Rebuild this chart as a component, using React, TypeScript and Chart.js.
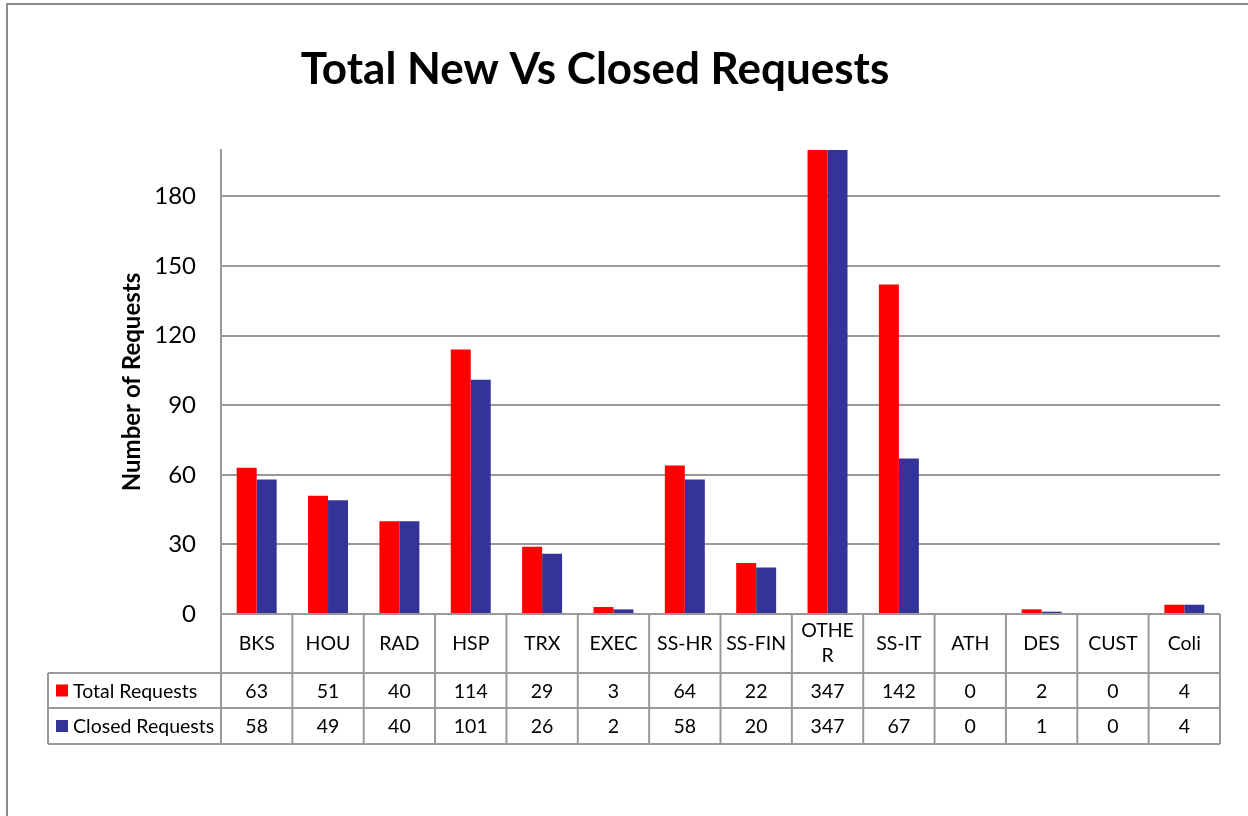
import React, { useEffect, useRef } from 'react';
import { Chart, registerables } from 'chart.js';

Chart.register(...registerables);

const categories: (string | string[])[] = ['BKS', 'HOU', 'RAD', 'HSP', 'TRX', 'EXEC', 'SS-HR', 'SS-FIN', ['OTHE', 'R'], 'SS-IT', 'ATH', 'DES', 'CUST', 'Coli'];
const totalRequests = [63, 51, 40, 114, 29, 3, 64, 22, 347, 142, 0, 2, 0, 4];
const closedRequests = [58, 49, 40, 101, 26, 2, 58, 20, 347, 67, 0, 1, 0, 4];
const seriesNames = ['Total Requests', 'Closed Requests'];
const seriesColors = ['#FF0000', '#333399'];
const yTickStep = 30;
const yMax = 200;
const chartTitle = 'Total New Vs Closed Requests';
const yAxisTitle = 'Number of Requests';

const FONT = 'Lato, "Open Sans", sans-serif';
const LINE = '#999999';

const framePlugin = {
  id: 'frameAndTitle',
  beforeDraw(chart: any) {
    const ctx = chart.ctx;
    ctx.save();
    ctx.fillStyle = '#ffffff';
    ctx.fillRect(0, 0, chart.width, chart.height);
    ctx.strokeStyle = '#8c8c8c';
    ctx.lineWidth = 2;
    ctx.strokeRect(7, 4, chart.width + 20, chart.height + 20);
    ctx.fillStyle = '#000';
    ctx.font = `bold 44px ${FONT}`;
    ctx.textAlign = 'center';
    ctx.textBaseline = 'middle';
    ctx.fillText(chartTitle, 595, 70);
    ctx.restore();
  },
};

const tablePlugin = {
  id: 'dataTable',
  afterDraw(chart: any) {
    const { ctx, chartArea } = chart;
    const xs = chart.scales.x;
    const labels = chart.data.labels as (string | string[])[];
    const n = labels.length;
    const bounds: number[] = [];
    for (let i = 0; i <= n; i++) {
      if (i === 0) bounds.push(chartArea.left);
      else if (i === n) bounds.push(chartArea.right);
      else bounds.push((xs.getPixelForValue(i - 1) + xs.getPixelForValue(i)) / 2);
    }
    const top = chartArea.bottom;
    const hdrB = top + 59;
    const r1B = hdrB + 35;
    const r2B = r1B + 36;
    const legendLeft = 48;

    ctx.save();
    ctx.strokeStyle = LINE;
    ctx.lineWidth = 2;
    const line = (x1: number, y1: number, x2: number, y2: number) => {
      ctx.beginPath();
      ctx.moveTo(x1, y1);
      ctx.lineTo(x2, y2);
      ctx.stroke();
    };
    line(bounds[0], top, bounds[n], top);
    line(legendLeft, hdrB, bounds[n], hdrB);
    line(legendLeft, r1B, bounds[n], r1B);
    line(legendLeft, r2B, bounds[n], r2B);
    bounds.forEach((b) => line(b, top, b, r2B));
    line(legendLeft, hdrB, legendLeft, r2B);

    ctx.fillStyle = '#000';
    ctx.font = `19.5px ${FONT}`;
    ctx.textAlign = 'center';
    ctx.textBaseline = 'middle';
    for (let i = 0; i < n; i++) {
      const cx = (bounds[i] + bounds[i + 1]) / 2;
      const lab = labels[i];
      const lines = Array.isArray(lab) ? lab : [lab];
      const lh = 25;
      const cy = (top + hdrB) / 2;
      lines.forEach((t, k) => {
        ctx.fillText(t, cx, cy + (k - (lines.length - 1) / 2) * lh);
      });
    }
    const rows = [
      { data: chart.data.datasets[0].data, y: (hdrB + r1B) / 2 },
      { data: chart.data.datasets[1].data, y: (r1B + r2B) / 2 },
    ];
    rows.forEach((row, r) => {
      for (let i = 0; i < n; i++) {
        const cx = (bounds[i] + bounds[i + 1]) / 2;
        ctx.fillText(String(row.data[i]), cx, row.y + 1);
      }
      ctx.fillStyle = seriesColors[r];
      ctx.fillRect(56, row.y - 6, 12, 12);
      ctx.fillStyle = '#000';
      ctx.textAlign = 'left';
      ctx.fillText(seriesNames[r], 73, row.y + 1);
      ctx.textAlign = 'center';
    });
    ctx.restore();
  },
};

export default function App() {
  const ref = useRef<HTMLCanvasElement>(null);
  useEffect(() => {
    if (!ref.current) return;
    const chart = new Chart(ref.current, {
      type: 'bar',
      data: {
        labels: categories,
        datasets: [
          { label: seriesNames[0], data: totalRequests, backgroundColor: seriesColors[0], categoryPercentage: 0.56, barPercentage: 1 },
          { label: seriesNames[1], data: closedRequests, backgroundColor: seriesColors[1], categoryPercentage: 0.56, barPercentage: 1 },
        ],
      },
      options: {
        responsive: false,
        animation: false,
        devicePixelRatio: 1,
        layout: { padding: { left: 0, top: 150, right: 28, bottom: 816 - 614 } },
        plugins: { legend: { display: false }, tooltip: { enabled: false }, title: { display: false } },
        scales: {
          x: { display: false, grid: { display: false } },
          y: {
            min: 0,
            max: yMax,
            ticks: { stepSize: yTickStep, padding: 25, color: '#000', font: { family: FONT, size: 24 } },
            afterBuildTicks: (scale: any) => {
              scale.ticks = scale.ticks.filter((t: any) => t.value % yTickStep === 0);
            },
            afterFit: (scale: any) => {
              scale.width = 221;
            },
            grid: { color: LINE, lineWidth: 2, drawTicks: false },
            border: { display: true, color: LINE, width: 2 },
            title: {
              display: true,
              text: yAxisTitle,
              color: '#000',
              font: { family: FONT, size: 24, weight: 'bold', lineHeight: 1.2 },
              padding: { top: 118, bottom: 0 },
            },
          },
        },
      },
      plugins: [framePlugin, tablePlugin],
    });
    return () => chart.destroy();
  }, []);
  return (
    <div style={{ position: 'absolute', left: 0, top: 0, width: 1248, height: 816 }}>
      <canvas ref={ref} width={1248} height={816} style={{ display: 'block' }} />
    </div>
  );
}
